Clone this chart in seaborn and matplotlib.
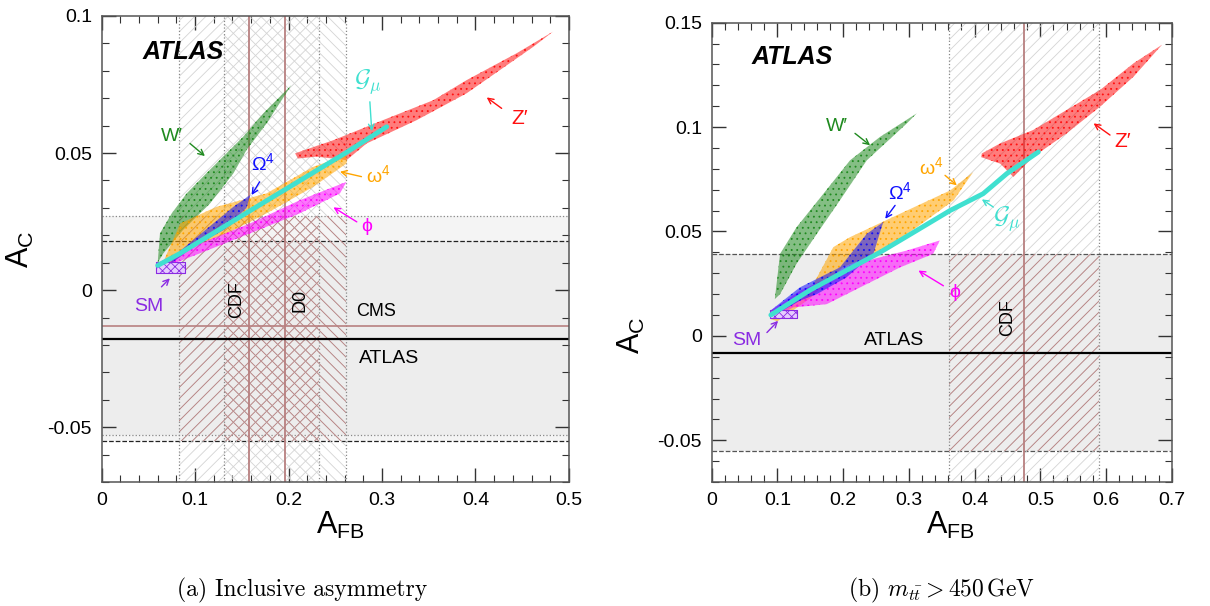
import seaborn as sns
import matplotlib.pyplot as plt
from matplotlib.ticker import MultipleLocator, FuncFormatter

# ---------------- measurements: [low edge, central, high edge] ----------------
# (a) inclusive
atlas_ac_a = [-0.055, -0.018, 0.018]
cms_ac_a = [-0.053, -0.013, 0.027]
cdf_afb_a = [0.083, 0.158, 0.233]
d0_afb_a = [0.131, 0.196, 0.261]
# (b) m_tt > 450 GeV
atlas_ac_b = [-0.055, -0.008, 0.039]
cdf_afb_b = [0.361, 0.475, 0.589]

# SM boxes
sm_afb_a = [0.058, 0.089]
sm_ac_a = [0.0061, 0.0103]
sm_afb_b = [0.089, 0.129]
sm_ac_b = [0.0088, 0.0124]

# ---------------- model regions (outline of the scanned points) ----------------
wprime_a = [(0.060, 0.010), (0.0624, 0.0207), (0.075, 0.028), (0.091, 0.0353), (0.112, 0.0426),
            (0.130, 0.0487), (0.1515, 0.056), (0.173, 0.0645), (0.203, 0.0748), (0.1765, 0.0608),
            (0.155, 0.0511), (0.141, 0.0426), (0.116, 0.0316), (0.087, 0.0219), (0.066, 0.0134)]
zprime_a = [(0.207, 0.0499), (0.248, 0.0547), (0.301, 0.062), (0.355, 0.0693), (0.3905, 0.0766),
            (0.444, 0.0864), (0.483, 0.0943), (0.462, 0.0888), (0.3905, 0.0718), (0.337, 0.062),
            (0.2835, 0.0535), (0.262, 0.0474), (0.230, 0.0487), (0.210, 0.048)]
omega_a = [(0.063, 0.008), (0.084, 0.0243), (0.123, 0.0304), (0.1765, 0.0353), (0.2265, 0.045),
           (0.262, 0.0493), (0.262, 0.0462), (0.2265, 0.0377), (0.1765, 0.028), (0.134, 0.0207),
           (0.098, 0.0158), (0.070, 0.0085)]
bigomega_a = [(0.0696, 0.0085), (0.085, 0.0146), (0.141, 0.0304), (0.159, 0.0347), (0.155, 0.030),
              (0.131, 0.022), (0.098, 0.0158)]
phi_a = [(0.0588, 0.0097), (0.105, 0.017), (0.1587, 0.0243), (0.212, 0.0328), (0.262, 0.0395),
         (0.255, 0.0353), (0.212, 0.028), (0.1587, 0.0207), (0.105, 0.0134), (0.0588, 0.0073)]
gmu_afb_a = [0.060, 0.084, 0.159, 0.2585, 0.305]
gmu_ac_a = [0.009, 0.0134, 0.029, 0.0495, 0.0596]

wprime_b = [(0.096, 0.0176), (0.104, 0.0393), (0.129, 0.052), (0.170, 0.0681), (0.2105, 0.0841),
            (0.256, 0.0953), (0.312, 0.1066), (0.297, 0.1018), (0.236, 0.0841), (0.195, 0.0649),
            (0.160, 0.0489), (0.129, 0.0345), (0.104, 0.020)]
zprime_b = [(0.411, 0.0874), (0.439, 0.0922), (0.489, 0.0986), (0.540, 0.1082), (0.591, 0.1178),
            (0.642, 0.1306), (0.685, 0.1394), (0.642, 0.1242), (0.591, 0.1098), (0.540, 0.097),
            (0.489, 0.0857), (0.459, 0.0761), (0.439, 0.0825), (0.410, 0.0856)]
omega_b = [(0.090, 0.008), (0.150, 0.022), (0.185, 0.0425), (0.2105, 0.0473), (0.2865, 0.0585),
           (0.363, 0.0697), (0.398, 0.0785), (0.368, 0.0649), (0.312, 0.052), (0.251, 0.0393),
           (0.200, 0.033), (0.150, 0.018), (0.100, 0.007)]
bigomega_b = [(0.089, 0.012), (0.134, 0.0232), (0.195, 0.0328), (0.236, 0.0489), (0.261, 0.0545),
              (0.246, 0.0393), (0.205, 0.028), (0.160, 0.020), (0.134, 0.0168), (0.094, 0.0096)]
phi_b = [(0.089, 0.012), (0.134, 0.0216), (0.236, 0.036), (0.297, 0.0409), (0.347, 0.0457),
         (0.337, 0.0393), (0.2865, 0.0328), (0.175, 0.0152), (0.124, 0.0136), (0.094, 0.0088)]
gmu_afb_b = [0.090, 0.150, 0.256, 0.312, 0.363, 0.413, 0.449, 0.497]
gmu_ac_b = [0.010, 0.022, 0.040, 0.0505, 0.0601, 0.0681, 0.0777, 0.0881]

# ---------------- style ----------------
sns.set_style('ticks')
plt.rcParams['font.family'] = ['Liberation Sans', 'DejaVu Sans']
plt.rcParams['mathtext.fontset'] = 'cm'
plt.rcParams['axes.unicode_minus'] = False
plt.rcParams['hatch.linewidth'] = 0.6
plt.rcParams['text.color'] = 'black'
plt.rcParams['axes.labelcolor'] = 'black'
plt.rcParams['xtick.labelcolor'] = 'black'
plt.rcParams['ytick.labelcolor'] = 'black'

C_W, C_Z, C_OM, C_BOM = '#1f8a1f', '#ff1010', '#ffa500', '#1010ff'
C_PHI, C_G, C_SM = '#ff00ff', '#40e0d0', '#8a2be2'
C_RED = '#b88080'
GRAY_H = '#d4d4d4'

fig = plt.figure(figsize=(12.1, 6.06), dpi=100)
ax_a = fig.add_axes([0.084, 0.2046, 0.3862, 0.769])
ax_b = fig.add_axes([0.5882, 0.2046, 0.3802, 0.7579])


def hband(ax, band, ls, col, alpha):
    ax.axhspan(band[0], band[2], color='#e2e2e2', alpha=alpha, lw=0, zorder=0)
    ax.axhline(band[0], color=col, ls=ls, lw=0.9, zorder=1)
    ax.axhline(band[2], color=col, ls=ls, lw=0.9, zorder=1)


def vband(ax, band, hatch, ylo, yhi, ylim):
    ax.fill_betweenx(ylim, band[0], band[2], facecolor='none', edgecolor=GRAY_H,
                     hatch=hatch, lw=0, zorder=1)
    ax.fill_betweenx([ylo, yhi], band[0], band[2], facecolor='none', edgecolor=C_RED,
                     hatch=hatch, lw=0, zorder=1)
    ax.axvline(band[0], color='#888888', ls=':', lw=0.9, zorder=1)
    ax.axvline(band[2], color='#888888', ls=':', lw=0.9, zorder=1)
    ax.axvline(band[1], color=C_RED, lw=1.3, zorder=2)


def cloud(ax, pts, col):
    xs = [p[0] for p in pts]
    ys = [p[1] for p in pts]
    ax.fill(xs, ys, facecolor=col, alpha=0.55, lw=0, zorder=3)
    ax.fill(xs, ys, facecolor='none', edgecolor=col, hatch='...', lw=0, zorder=3)


def sm_box(ax, afb, ac):
    ax.fill_between(afb, ac[0], ac[1], facecolor='#e6ccff', edgecolor=C_SM,
                    hatch='xxxx', lw=0.8, zorder=4)


def label(ax, txt, pos, tail, head, col, size=14):
    ax.text(pos[0], pos[1], txt, color=col, fontsize=size, ha='center', va='center', zorder=6)
    ax.annotate('', xy=head, xytext=tail,
                arrowprops=dict(arrowstyle='->', color=col, lw=1.0, shrinkA=0, shrinkB=0),
                zorder=6)


# ---------------- (a) inclusive ----------------
ylim_a = (-0.07, 0.1)
hband(ax_a, cms_ac_a, ':', '#888888', 0.35)
hband(ax_a, atlas_ac_a, '--', '#222222', 0.35)
vband(ax_a, cdf_afb_a, '///', atlas_ac_a[0], cms_ac_a[2], ylim_a)
vband(ax_a, d0_afb_a, '\\\\\\', atlas_ac_a[0], cms_ac_a[2], ylim_a)
ax_a.axhline(cms_ac_a[1], color=C_RED, lw=1.2, zorder=2)
ax_a.axhline(atlas_ac_a[1], color='black', lw=1.6, zorder=2)

cloud(ax_a, wprime_a, C_W)
cloud(ax_a, zprime_a, C_Z)
cloud(ax_a, omega_a, C_OM)
cloud(ax_a, phi_a, C_PHI)
cloud(ax_a, bigomega_a, C_BOM)
sns.lineplot(x=gmu_afb_a, y=gmu_ac_a, sort=False, estimator=None, color=C_G, lw=3.5,
             ax=ax_a, zorder=5)
sm_box(ax_a, sm_afb_a, sm_ac_a)

label(ax_a, 'W′', (0.075, 0.056), (0.0945, 0.0535), (0.1105, 0.0489), C_W)
label(ax_a, 'Ω$\\mathregular{^{4}}$', (0.173, 0.0462), (0.169, 0.0395), (0.1605, 0.0347), C_BOM)
label(ax_a, '$\\mathcal{G}_{\\mu}$', (0.285, 0.076), (0.287, 0.0687), (0.289, 0.058), C_G, 18)
label(ax_a, 'Z′', (0.447, 0.0627), (0.428, 0.0663), (0.412, 0.0703), C_Z, 15)
label(ax_a, 'ω$\\mathregular{^{4}}$', (0.296, 0.042), (0.278, 0.0414), (0.255, 0.0432), C_OM)
label(ax_a, 'ϕ', (0.2835, 0.0231), (0.273, 0.0249), (0.248, 0.0302), C_PHI)
label(ax_a, 'SM', (0.050, -0.0061), (0.064, 0.0012), (0.073, 0.0043), C_SM)

ax_a.text(0.1445, -0.0036, 'CDF', rotation=90, fontsize=13, ha='center', va='center', zorder=6)
ax_a.text(0.212, -0.0036, 'D0', rotation=90, fontsize=13, ha='center', va='center', zorder=6)
ax_a.text(0.294, -0.0079, 'CMS', fontsize=13, ha='center', va='center', zorder=6)
ax_a.text(0.308, -0.0248, 'ATLAS', fontsize=14, ha='center', va='center', zorder=6)
ax_a.text(0.087, 0.087, 'ATLAS', fontsize=18, fontweight='bold', fontstyle='italic',
          ha='center', va='center', zorder=6)

ax_a.set_xlim(0, 0.5)
ax_a.set_ylim(*ylim_a)
ax_a.xaxis.set_major_locator(MultipleLocator(0.1))
ax_a.xaxis.set_minor_locator(MultipleLocator(0.02))
ax_a.yaxis.set_major_locator(MultipleLocator(0.05))
ax_a.yaxis.set_minor_locator(MultipleLocator(0.01))

# ---------------- (b) m_tt > 450 GeV ----------------
ylim_b = (-0.07, 0.15)
hband(ax_b, atlas_ac_b, '--', '#555555', 0.6)
vband(ax_b, cdf_afb_b, '///', atlas_ac_b[0], atlas_ac_b[2], ylim_b)
ax_b.axhline(atlas_ac_b[1], color='black', lw=1.6, zorder=2)

cloud(ax_b, wprime_b, C_W)
cloud(ax_b, zprime_b, C_Z)
cloud(ax_b, omega_b, C_OM)
cloud(ax_b, phi_b, C_PHI)
cloud(ax_b, bigomega_b, C_BOM)
sns.lineplot(x=gmu_afb_b, y=gmu_ac_b, sort=False, estimator=None, color=C_G, lw=3.5,
             ax=ax_b, zorder=5)
sm_box(ax_b, sm_afb_b, sm_ac_b)

label(ax_b, 'W′', (0.19, 0.1005), (0.218, 0.097), (0.241, 0.0913), C_W)
label(ax_b, 'ω$\\mathregular{^{4}}$', (0.334, 0.081), (0.355, 0.0769), (0.373, 0.0721), C_OM)
label(ax_b, 'Ω$\\mathregular{^{4}}$', (0.2865, 0.0688), (0.279, 0.0625), (0.264, 0.0561), C_BOM)
label(ax_b, 'Z′', (0.625, 0.0929), (0.606, 0.0962), (0.581, 0.1018), C_Z, 15)
label(ax_b, '$\\mathcal{G}_{\\mu}$', (0.449, 0.0561), (0.4285, 0.0617), (0.411, 0.0654), C_G, 18)
label(ax_b, 'ϕ', (0.370, 0.0208), (0.3525, 0.024), (0.3145, 0.0313), C_PHI)
label(ax_b, 'SM', (0.053, -0.002), (0.084, 0.0016), (0.101, 0.0072), C_SM)

ax_b.text(0.451, 0.0087, 'CDF', rotation=90, fontsize=13, ha='center', va='center', zorder=6)
ax_b.text(0.277, -0.002, 'ATLAS', fontsize=14, ha='center', va='center', zorder=6)
ax_b.text(0.123, 0.1337, 'ATLAS', fontsize=18, fontweight='bold', fontstyle='italic',
          ha='center', va='center', zorder=6)

ax_b.set_xlim(0, 0.7)
ax_b.set_ylim(*ylim_b)
ax_b.xaxis.set_major_locator(MultipleLocator(0.1))
ax_b.xaxis.set_minor_locator(MultipleLocator(0.02))
ax_b.yaxis.set_major_locator(MultipleLocator(0.05))
ax_b.yaxis.set_minor_locator(MultipleLocator(0.01))

# ---------------- common axis cosmetics ----------------
fmt = FuncFormatter(lambda v, p: '%g' % round(v, 6))
for ax in (ax_a, ax_b):
    ax.xaxis.set_major_formatter(fmt)
    ax.yaxis.set_major_formatter(fmt)
    ax.tick_params(which='both', direction='in', top=True, right=True, labelsize=14,
                   color='#333333', labelcolor='black')
    ax.tick_params(which='major', length=10, width=1.0, pad=7)
    ax.tick_params(which='minor', length=5, width=0.8)
    for s in ax.spines.values():
        s.set_linewidth(1.1)
        s.set_color('#555555')
    ax.set_xlabel('$\\mathregular{A_{FB}}$', fontsize=22)
    ax.set_ylabel('$\\mathregular{A_{C}}$', fontsize=22)

ax_a.xaxis.set_label_coords(0.51, -0.06)
ax_a.yaxis.set_label_coords(-0.14, 0.50)
ax_b.xaxis.set_label_coords(0.518, -0.06)
ax_b.yaxis.set_label_coords(-0.14, 0.32)

fig.text(0.2496, 0.026, '(a) Inclusive asymmetry', family='cmr10', fontsize=17,
         ha='center', va='center')
fig.text(0.778, 0.026, '(b) $m_{t\\bar{t}} > 450\\,\\mathrm{GeV}$', family='cmr10', fontsize=17,
         ha='center', va='center')

fig.savefig('out.png', dpi=100, facecolor='white')
